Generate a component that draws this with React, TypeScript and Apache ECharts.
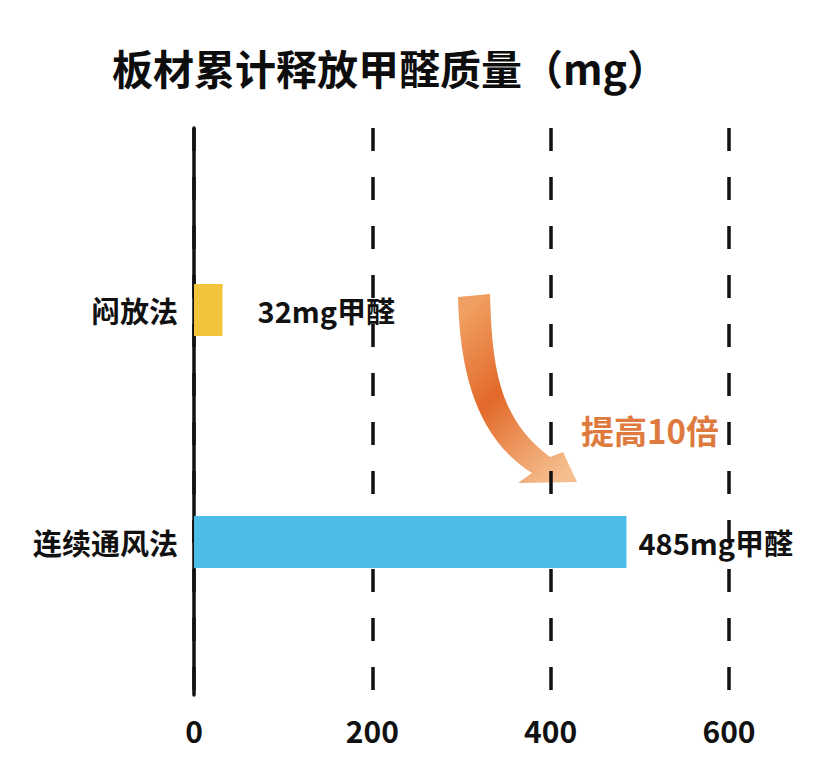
import React, { useEffect, useRef } from "react";
import * as echarts from "echarts";

const categories = ["闷放法", "连续通风法"];
const values = [32, 485];
const barColors = ["#F2C33B", "#4CBDE9"];
const labelGaps = [35, 12];
const xTicks = [0, 200, 400, 600];
const titleText = "板材累计释放甲醛质量（mg）";
const noteText = "提高10倍";

const ARROW_D =
  "M458 297 L490 294 C492 370 500 420 550 457 L563 452 L577 482 L518 483 L532 473 C480 440 460 380 458 297 Z";
echarts.graphic.registerShape("curvedArrow", echarts.graphic.extendPath(ARROW_D, {}) as any);

const FONT = '"Noto Sans CJK SC", "Noto Sans", sans-serif';

export default function App() {
  const ref = useRef<HTMLDivElement>(null);
  useEffect(() => {
    if (!ref.current) return;
    const chart = echarts.init(ref.current, undefined, { renderer: "svg" });
    chart.setOption({
      animation: false,
      backgroundColor: "#ffffff",
      textStyle: { fontFamily: FONT },
      title: {
        text: titleText,
        left: 107,
        top: 41,
        textStyle: { fontSize: 41, fontWeight: "bold", color: "#0d0d0d", fontFamily: FONT },
      },
      grid: [
        { left: 194, right: 99, top: 128, bottom: 80 },
        { left: 194, right: 99, top: 194, height: 464 },
      ],
      xAxis: [
        {
          type: "value",
          gridIndex: 0,
          min: xTicks[0],
          max: xTicks[xTicks.length - 1],
          interval: 200,
          axisLine: { show: false },
          axisTick: { show: false },
          axisLabel: {
            margin: 20,
            fontSize: 30,
            fontWeight: "bold",
            color: "#111",
            fontFamily: FONT,
          },
          splitLine: {
            show: true,
            lineStyle: { color: "#111", width: 3.5, type: [23, 26] },
          },
        },
        {
          type: "value",
          gridIndex: 1,
          min: xTicks[0],
          max: xTicks[xTicks.length - 1],
          show: false,
          splitLine: { show: false },
        },
      ],
      yAxis: [
        {
          type: "value",
          gridIndex: 0,
          axisLine: { show: true, onZero: true, lineStyle: { color: "#111", width: 3.5 } },
          axisTick: { show: false },
          axisLabel: { show: false },
          splitLine: { show: false },
        },
        {
          type: "category",
          gridIndex: 1,
          data: categories,
          inverse: true,
          axisLine: { show: false },
          axisTick: { show: false },
          axisLabel: {
            margin: 16,
            fontSize: 29,
            fontWeight: "bold",
            color: "#111",
            fontFamily: FONT,
          },
        },
      ],
      series: [
        {
          type: "bar",
          xAxisIndex: 1,
          yAxisIndex: 1,
          barWidth: 52,
          data: values.map((v, i) => ({
            value: v,
            itemStyle: { color: barColors[i] },
            label: { distance: labelGaps[i] },
          })),
          label: {
            show: true,
            position: "right",
            formatter: "{c}mg甲醛",
            fontSize: 29,
            fontWeight: "bold",
            color: "#111",
            fontFamily: FONT,
          },
        },
      ],
      graphic: [
        {
          type: "curvedArrow",
          x: 0,
          y: 0,
          style: {
            fill: new echarts.graphic.LinearGradient(0.2, 0, 0.8, 1, [
              { offset: 0, color: "#F0A062" },
              { offset: 0.45, color: "#E2692A" },
              { offset: 0.8, color: "#EFA36C" },
              { offset: 1, color: "#F5BE8E" },
            ]),
          },
        },
        {
          type: "text",
          left: 581,
          top: 413,
          style: {
            text: noteText,
            fontSize: 33,
            fontWeight: "bold",
            fill: "#DF7A3E",
            fontFamily: FONT,
          },
        },
      ],
    });
    return () => chart.dispose();
  }, []);
  return (
    <div
      ref={ref}
      style={{ position: "fixed", left: 0, top: 0, width: 828, height: 775, background: "#fff" }}
    />
  );
}
